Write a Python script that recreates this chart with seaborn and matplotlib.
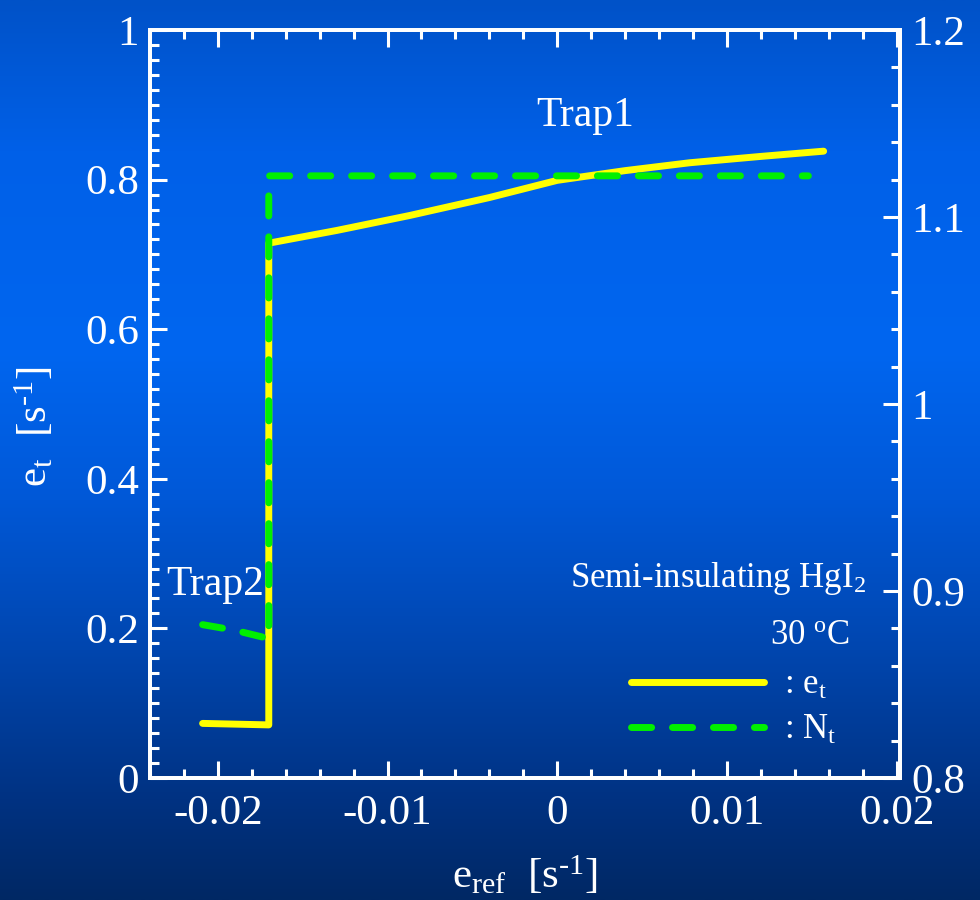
import numpy as np
import matplotlib
matplotlib.use("Agg")
import matplotlib.pyplot as plt
import seaborn as sns
from matplotlib.ticker import MultipleLocator
from matplotlib.lines import Line2D

# ---- data ----
et_x = [-0.0209, -0.017, -0.017, -0.013, -0.0087, -0.004, 0.0, 0.004, 0.0078, 0.012, 0.0157]
et_y = [0.073, 0.071, 0.715, 0.732, 0.752, 0.776, 0.799, 0.812, 0.8225, 0.831, 0.838]

nt_x = [-0.0209, -0.019, -0.0172, -0.017, -0.017, 0.0148]
nt_y = [0.882, 0.879, 0.875, 0.874, 1.122, 1.122]

x_ticks = [-0.02, -0.01, 0, 0.01, 0.02]
x_ticklabels = ["-0.02", "-0.01", "0", "0.01", "0.02"]
yl_ticks = [0, 0.2, 0.4, 0.6, 0.8, 1.0]
yl_ticklabels = ["0", "0.2", "0.4", "0.6", "0.8", "1"]
yr_ticks = [0.8, 0.9, 1.0, 1.1, 1.2]
yr_ticklabels = ["0.8", "0.9", "1", "1.1", "1.2"]

sns.set_theme(style="ticks")
plt.rcParams["font.family"] = ["Liberation Serif", "DejaVu Serif"]
plt.rcParams["mathtext.fontset"] = "custom"
plt.rcParams["mathtext.rm"] = "Liberation Serif"
plt.rcParams["mathtext.it"] = "Liberation Serif"
plt.rcParams["mathtext.default"] = "rm"
plt.rcParams["text.color"] = "white"

W, H = 980, 900
fig = plt.figure(figsize=(W / 100, H / 100), dpi=100)

# gradient background
bg = fig.add_axes([0, 0, 1, 1], zorder=-10)
stops_y = np.array([0, 150, 350, 500, 650, 800, 900]) / 900.0
stops_c = np.array([
    [0, 82, 200],
    [0, 96, 232],
    [0, 102, 240],
    [0, 88, 215],
    [0, 70, 175],
    [0, 50, 130],
    [0, 40, 100],
]) / 255.0
yy = np.linspace(0, 1, 400)
grad = np.stack([np.interp(yy, stops_y, stops_c[:, i]) for i in range(3)], axis=1)
bg.imshow(grad[:, None, :], aspect="auto", extent=[0, 1, 1, 0])
bg.set_axis_off()

left, right, top, bottom = 150 / W, 900 / W, 1 - 30 / H, 1 - 778 / H
ax = fig.add_axes([left, bottom, right - left, top - bottom])
ax.patch.set_alpha(0)

sns.lineplot(x=et_x, y=et_y, ax=ax, sort=False, estimator=None,
             color="#ffff00", linewidth=5, solid_capstyle="round", solid_joinstyle="round")
ax.set_xlim(-0.024, 0.0202)
ax.set_ylim(0, 1)

ax2 = ax.twinx()
ax2.patch.set_alpha(0)
sns.lineplot(x=nt_x, y=nt_y, ax=ax2, sort=False, estimator=None,
             color="#00f000", linewidth=5, dashes=False)
ln = ax2.get_lines()[0]
ln.set_dashes((2.9, 3.0))
ln.set_dash_capstyle("round")
ax2.set_ylim(0.8, 1.2)

fs = 31
for a in (ax, ax2):
    for s in a.spines.values():
        s.set_color("white")
        s.set_linewidth(2.8)

ax.set_xticks(x_ticks)
ax.set_xticklabels(x_ticklabels)
ax.set_yticks(yl_ticks)
ax.set_yticklabels(yl_ticklabels)
ax.xaxis.set_minor_locator(MultipleLocator(0.002))
ax.yaxis.set_minor_locator(MultipleLocator(0.02))
ax.tick_params(axis="both", which="both", direction="in", colors="white",
               labelcolor="white", labelsize=fs, width=2.2, top=True, right=False)
ax.tick_params(which="major", length=12, pad=8)
ax.tick_params(which="minor", length=6.5)
ax.tick_params(axis="x", pad=12)

ax2.set_yticks(yr_ticks)
ax2.set_yticklabels(yr_ticklabels)
ax2.yaxis.set_minor_locator(MultipleLocator(0.02))
ax2.tick_params(axis="y", which="both", direction="in", colors="white",
                labelcolor="white", labelsize=fs, width=2.2, left=False, right=True)
ax2.tick_params(which="major", length=12, pad=8)
ax2.tick_params(which="minor", length=6.5)
ax2.set_ylabel("")
ax2.set_xlabel("")

ax.set_xlabel(r"$\mathrm{e_{ref}}$  [s$^{\text{-1}}$]", fontsize=fs, color="white", labelpad=15)
ax.set_ylabel(r"$\mathrm{e_{t}}$  [s$^{\text{-1}}$]", fontsize=fs, color="white")
ax.yaxis.set_label_coords(-0.125, 0.47)

ax.text(0.58, 0.885, "Trap1", transform=ax.transAxes, ha="center", va="center",
        fontsize=30, color="white")
ax.text(0.087, 0.258, "Trap2", transform=ax.transAxes, ha="center", va="center",
        fontsize=30, color="white")
ax2.text(0.955, 0.267, r"Semi-insulating HgI$_2$", transform=ax.transAxes, ha="right",
         va="center", fontsize=25, color="white")
ax2.text(0.933, 0.19, r"30 $^{\mathrm{o}}$C", transform=ax.transAxes, ha="right",
         va="center", fontsize=25, color="white")

h1 = Line2D([], [], color="#ffff00", linewidth=5, solid_capstyle="round")
h2 = Line2D([], [], color="#00f000", linewidth=5, dashes=(2.9, 3.0), dash_capstyle="round")
leg = ax2.legend([h1, h2], [r": e$_\mathrm{t}$", r": N$_\mathrm{t}$"], loc="upper left",
                 bbox_to_anchor=(0.641, 0.146), bbox_transform=ax.transAxes,
                 frameon=False, fontsize=25, handlelength=3.85, handletextpad=0.55,
                 labelspacing=0.35, borderpad=0, borderaxespad=0)
for t in leg.get_texts():
    t.set_color("white")

fig.savefig("out.png", dpi=100)
